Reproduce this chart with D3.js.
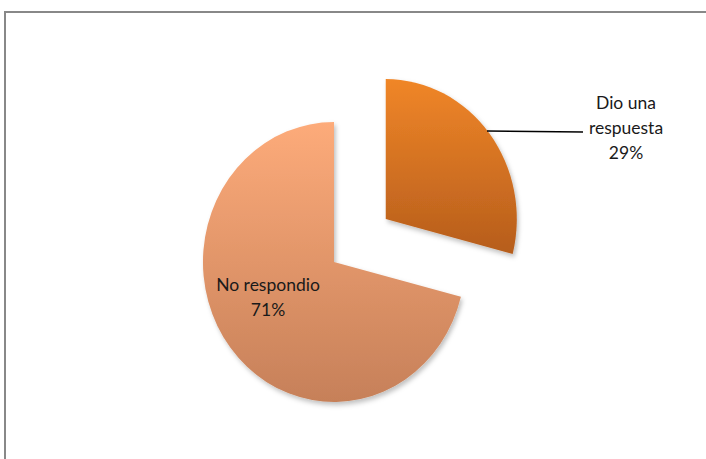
<!DOCTYPE html>
<html><head><meta charset="utf-8">
<script src="https://cdn.jsdelivr.net/npm/d3@7"></script>
<style>html,body{margin:0;padding:0;background:#fff;}svg{display:block;}</style>
</head><body>
<svg id="chart" width="706" height="459"></svg>
<script>
const categories = ["Dio una respuesta", "No respondio"];
const values = [29, 71];
const labelLines = [["Dio una", "respuesta", "29%"], ["No respondio", "71%"]];

const svg = d3.select("#chart");
svg.append("rect").attr("x", 5).attr("y", 12).attr("width", 720).attr("height", 480)
  .attr("fill", "#fff").attr("stroke", "#888").attr("stroke-width", 2);

const defs = svg.append("defs");
const grads = [["#F08628", "#B65D1C"], ["#FDAB7A", "#C68059"]];
grads.forEach((g, i) => {
  const lg = defs.append("linearGradient").attr("id", "g" + i)
    .attr("x1", 0).attr("y1", 0).attr("x2", 0).attr("y2", 1);
  lg.append("stop").attr("offset", "0%").attr("stop-color", g[0]);
  lg.append("stop").attr("offset", "100%").attr("stop-color", g[1]);
});
const flt = defs.append("filter").attr("id", "sh").attr("x", "-10%").attr("y", "-10%").attr("width", "130%").attr("height", "130%");
flt.append("feDropShadow").attr("dx", 2).attr("dy", 3).attr("stdDeviation", 2.5).attr("flood-color", "#000").attr("flood-opacity", 0.25);

const cx = 334, cy = 262, R = 140, sx = 0.936;
const pie = d3.pie().sort(null).startAngle(0).endAngle(2 * Math.PI);
const arcs = pie(values);
const arc = d3.arc().innerRadius(0).outerRadius(R);
const explode = [70, 0];

const g = svg.append("g");
arcs.forEach((a, i) => {
  const mid = (a.startAngle + a.endAngle) / 2;
  const ox = explode[i] * Math.sin(mid) * sx;
  const oy = -explode[i] * Math.cos(mid);
  g.append("path")
    .attr("d", arc(a))
    .attr("transform", `translate(${cx + ox},${cy + oy}) scale(${sx},1)`)
    .attr("fill", `url(#g${i})`)
    .attr("filter", "url(#sh)");
});

const font = "Lato, 'Open Sans', sans-serif";
// label for small slice
const l0 = svg.append("text").attr("font-family", font).attr("font-size", 17.5).attr("fill", "#1a1a1a")
  .attr("text-anchor", "middle");
labelLines[0].forEach((t, k) => l0.append("tspan").attr("x", 626).attr("y", 109 + k * 25).text(t));
svg.append("line").attr("x1", 487).attr("y1", 131).attr("x2", 583).attr("y2", 132)
  .attr("stroke", "#000").attr("stroke-width", 1.5);
// label for large slice
const l1 = svg.append("text").attr("font-family", font).attr("font-size", 17.5).attr("fill", "#1a1a1a")
  .attr("text-anchor", "middle");
labelLines[1].forEach((t, k) => l1.append("tspan").attr("x", 268).attr("y", 291 + k * 25).text(t));
</script>
</body></html>
